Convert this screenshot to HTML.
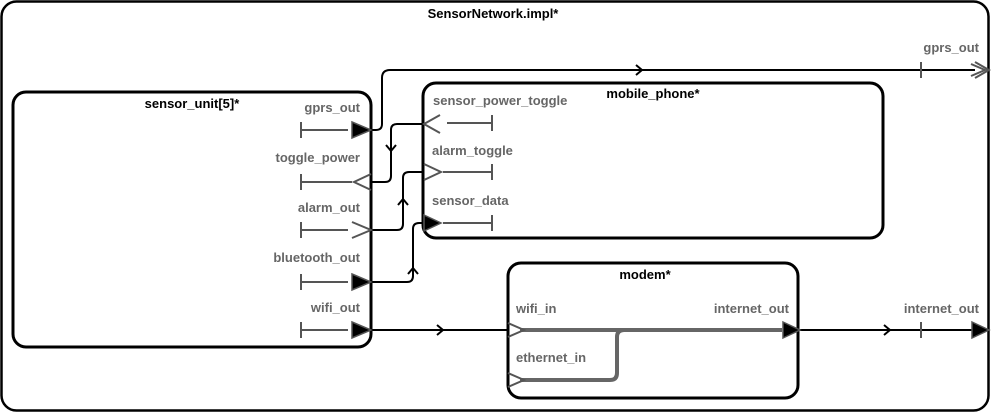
<!DOCTYPE html>
<html><head><meta charset="utf-8"><style>
html,body{margin:0;padding:0;background:#fff;}
svg{display:block;}
text{font-family:"Liberation Sans",sans-serif;font-size:13px;font-weight:bold;}
.g{fill:#666;}
.b{fill:#000;}
</style></head><body>
<svg width="991" height="413" viewBox="0 0 991 413" xmlns="http://www.w3.org/2000/svg">
<rect x="1.5" y="1.5" width="987" height="409" rx="15" fill="#fff" stroke="#000" stroke-width="2.5"/>
<text x="493" y="18" text-anchor="middle" class="b">SensorNetwork.impl*</text>

<!-- connections -->
<g fill="none" stroke="#000" stroke-width="2">
<path d="M371 130 H376 Q382 130 382 124 V78 Q382 70 390 70 H975"/>
<path d="M636 65 L642 70 L636 75"/>
<path d="M371 182 H385 Q391 182 391 176 V130 Q391 124 397 124 H423"/>
<path d="M386 145 L391 151 L396 145"/>
<path d="M371 230 H397 Q403 230 403 224 V178 Q403 172 409 172 H423"/>
<path d="M398 205 L403 199 L408 205"/>
<path d="M371 282 H407 Q413 282 413 276 V229 Q413 223 419 223 H423"/>
<path d="M408 274 L413 268 L418 274"/>
<path d="M371 330 H508"/>
<path d="M437 325 L443 330 L437 335"/>
<path d="M800 330 H975"/>
<path d="M884 325 L890 330 L884 335"/>
</g>
<!-- outer ports -->
<g stroke="#555" stroke-width="2" fill="none">
<path d="M921 62 V78"/><path d="M921 322 V338"/>
<path d="M975 62 L989 70 L975 78"/><path d="M971 64 L985 70 L971 76"/>
</g>
<polygon points="972,322 989,330 972,338" fill="#000" stroke="#555" stroke-width="1.5"/>
<text x="979" y="52" text-anchor="end" class="g">gprs_out</text>
<text x="979" y="313" text-anchor="end" class="g">internet_out</text>

<!-- sensor_unit -->
<rect x="13" y="92" width="358" height="255" rx="13" fill="none" stroke="#000" stroke-width="3"/>
<text x="192" y="108" text-anchor="middle" class="b">sensor_unit[5]*</text>
<g class="g" text-anchor="end">
<text x="360" y="112">gprs_out</text>
<text x="360" y="162">toggle_power</text>
<text x="360" y="212">alarm_out</text>
<text x="360" y="262">bluetooth_out</text>
<text x="360" y="312">wifi_out</text>
</g>
<g stroke="#555" stroke-width="2" fill="none">
<path d="M301 122V138 M301 130H348"/>
<path d="M301 174V190 M301 182H352"/>
<path d="M301 222V238 M301 230H348"/>
<path d="M301 274V290 M301 282H348"/>
<path d="M301 322V338 M301 330H348"/>
<path d="M371 174 L354 182 L371 190"/>
<path d="M352 222 L371 230 L352 238"/>
</g>
<g fill="#000" stroke="#555" stroke-width="1.5">
<polygon points="352,122 371,130 352,138"/>
<polygon points="352,274 371,282 352,290"/>
<polygon points="352,322 371,330 352,338"/>
</g>

<!-- mobile_phone -->
<rect x="423" y="83" width="460" height="155" rx="13" fill="none" stroke="#000" stroke-width="3"/>
<text x="653" y="98" text-anchor="middle" class="b">mobile_phone*</text>
<g class="g">
<text x="433" y="105">sensor_power_toggle</text>
<text x="432" y="155">alarm_toggle</text>
<text x="432" y="205">sensor_data</text>
</g>
<g stroke="#555" stroke-width="2" fill="none">
<path d="M492 115V131 M492 123H447"/>
<path d="M492 164V180 M492 172H443"/>
<path d="M492 215V231 M492 223H443"/>
<path d="M440 115 L424 124 L440 133"/>
<path d="M424 164 L441 172 L424 180"/>
</g>
<polygon points="424,215 441,223 424,231" fill="#000" stroke="#555" stroke-width="1.5"/>

<!-- modem -->
<rect x="508" y="263" width="290" height="135" rx="13" fill="none" stroke="#000" stroke-width="3"/>
<text x="645" y="279" text-anchor="middle" class="b">modem*</text>
<g class="g">
<text x="516" y="313">wifi_in</text>
<text x="516" y="362">ethernet_in</text>
<text x="789" y="313" text-anchor="end">internet_out</text>
</g>
<g stroke="#666" stroke-width="4" fill="none">
<path d="M520 330 H782"/>
<path d="M520 380 H610 Q617 380 617 373 V337 Q617 330 624 330"/>
</g>
<g stroke="#555" stroke-width="2" fill="none">
<path d="M508 323 L524 330 L508 337"/><path d="M508 373 L524 380 L508 387"/>
</g>
<polygon points="783,322 800,330 783,338" fill="#000" stroke="#555" stroke-width="1.5"/>
</svg>
</body></html>
